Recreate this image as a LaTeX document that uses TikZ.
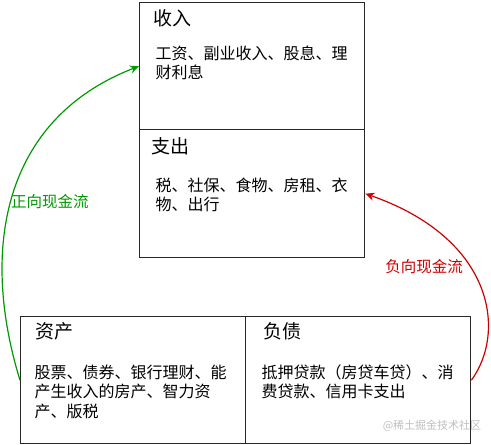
\documentclass[tikz,border=0pt]{standalone}
\usepackage{fontspec}
\setmainfont{Noto Sans CJK SC}
\usepackage{xcolor}
\definecolor{flowgreen}{RGB}{0,153,0}
\definecolor{flowred}{RGB}{204,0,0}
\definecolor{boxline}{RGB}{40,40,40}
\usepackage{tikz}
\usetikzlibrary{positioning}
\usetikzlibrary{arrows.meta}
\tikzset{box node/.style={draw=boxline,line width=1.4pt,minimum width=225pt,minimum height=127pt,inner sep=0pt,anchor=north west},
	title node/.style={inner sep=0pt,font=\fontsize{19}{22}\selectfont},
	text node/.style={inner sep=0pt,align=left,font=\fontsize{16}{19.5}\selectfont},
	flow label/.style={inner sep=0pt,font=\fontsize{15.5}{18}\selectfont},}

\begin{document}
\begin{tikzpicture}[x=1pt, y=-1pt, -{Stealth[length=9pt,width=8pt]}, line width=1.2pt]
	\useasboundingbox (0,0) rectangle (491,445);
	\node[box node] (income) at (139,2) {};
	\node[box node, minimum height=128pt] (expense) at (139,129) {};
	\node[box node] (asset) at (20,316) {};
	\node[box node] (debt) at (245,316) {};

	\node[title node] (incomeT) [below right = 7pt and 14pt of income.north west] {收入};
	\node[text node] (incomeB) [below right = 43pt and 16pt of income.north west] {工资、副业收入、股息、理\\财利息};
	\node[title node] (expenseT) [below right = 8pt and 12pt of expense.north west] {支出};
	\node[text node] (expenseB) [below right = 48pt and 16pt of expense.north west] {税、社保、食物、房租、衣\\物、出行};
	\node[title node] (assetT) [below right = 6pt and 15pt of asset.north west] {资产};
	\node[text node] (assetB) [below right = 48pt and 14pt of asset.north west] {股票、债券、银行理财、能\\产生收入的房产、智力资\\产、版税};
	\node[title node] (debtT) [below right = 6pt and 18pt of debt.north west] {负债};
	\node[text node] (debtB) [below right = 48pt and 16pt of debt.north west] {抵押贷款（房贷车贷）、消\\费贷款、信用卡支出};

	\draw[flowgreen] (asset.west) .. controls +(-40,-130) and +(-137,53) .. (income.west);
	\draw[flowred] (debt.east) .. controls +(35,-48) and +(129,45) .. (expense.east);
	\node[flow label, text=flowgreen] (posL) at (50,202) {正向现金流};
	\node[flow label, text=flowred] (negL) at (424,267) {负向现金流};

	\node[inner sep=0pt, text=black!25, font=\fontsize{11}{13}\selectfont] (mark) at (432,426) {@稀土掘金技术社区};
\end{tikzpicture}
\end{document}
